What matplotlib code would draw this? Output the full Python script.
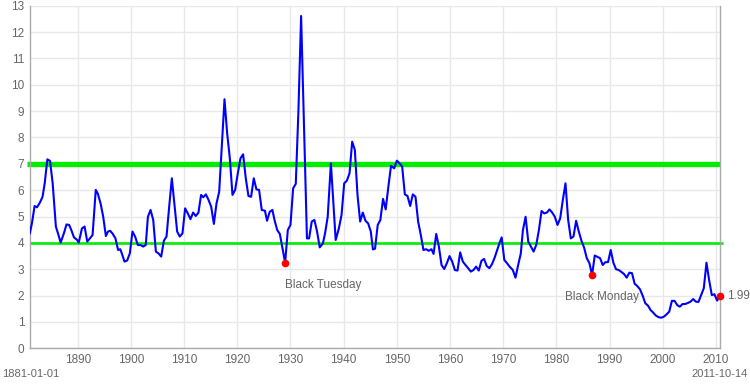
import matplotlib
matplotlib.use("Agg")
import matplotlib.pyplot as plt

years = [1881.0, 1881.4, 1881.9, 1882.35, 1882.9, 1883.4, 1883.8, 1884.3, 1884.8, 1885.3,
         1885.9, 1886.3, 1886.8, 1887.4, 1887.9, 1888.4, 1888.8, 1889.3, 1889.9, 1890.2,
         1890.8, 1891.3, 1891.8, 1892.3, 1892.8, 1893.4, 1893.8, 1894.3, 1894.8, 1895.3,
         1895.7, 1896.1, 1896.6, 1897.1, 1897.6, 1898.0, 1898.3, 1898.8, 1899.3, 1899.8,
         1900.3, 1900.8, 1901.3, 1901.8, 1902.3, 1902.8, 1903.2, 1903.7, 1904.2, 1904.7,
         1905.2, 1905.7, 1906.2, 1906.7, 1907.2, 1907.7, 1908.2, 1908.7, 1909.2, 1909.7,
         1910.2, 1910.7, 1911.2, 1911.7, 1912.2, 1912.7, 1913.2, 1913.6, 1914.1, 1914.6,
         1915.1, 1915.6, 1916.1, 1916.6, 1917.6, 1918.1, 1918.6, 1919.1, 1919.6, 1920.1,
         1920.6, 1921.1, 1921.6, 1922.1, 1922.6, 1923.1, 1923.6, 1924.1, 1924.6, 1925.2,
         1925.6, 1926.1, 1926.6, 1927.0, 1927.5, 1928.0, 1928.5, 1929.0, 1929.5, 1930.0,
         1930.5, 1931.0, 1931.5, 1932.0, 1932.6, 1933.1, 1933.5, 1934.0, 1934.5, 1935.0,
         1935.5, 1936.1, 1936.5, 1937.0, 1937.6, 1938.0, 1938.5, 1939.1, 1939.6, 1940.1,
         1940.6, 1941.1, 1941.6, 1942.1, 1942.6, 1943.1, 1943.6, 1944.1, 1944.6, 1945.1,
         1945.5, 1945.9, 1946.4, 1946.9, 1947.4, 1947.9, 1948.4, 1948.9, 1949.5, 1950.0,
         1950.5, 1951.0, 1951.5, 1952.0, 1952.5, 1953.0, 1953.5, 1954.0, 1954.5, 1955.0,
         1955.5, 1956.0, 1956.5, 1956.9, 1957.4, 1957.9, 1958.4, 1958.9, 1959.4, 1959.9,
         1960.4, 1960.9, 1961.4, 1961.9, 1962.4, 1962.9, 1963.4, 1963.9, 1964.4, 1964.9,
         1965.4, 1965.9, 1966.4, 1966.9, 1967.4, 1967.9, 1968.4, 1968.9, 1969.3, 1969.7,
         1970.2, 1970.7, 1971.2, 1971.8, 1972.3, 1972.8, 1973.3, 1973.7, 1974.2, 1974.7,
         1975.2, 1975.7, 1976.2, 1976.7, 1977.2, 1977.7, 1978.2, 1978.7, 1979.2, 1979.7,
         1980.2, 1980.7, 1981.2, 1981.7, 1982.2, 1982.7, 1983.2, 1983.7, 1984.2, 1984.7,
         1985.2, 1985.7, 1986.2, 1986.7, 1987.2, 1987.7, 1988.2, 1988.7, 1989.2, 1989.7,
         1990.2, 1990.7, 1991.2, 1991.7, 1992.2, 1992.7, 1993.2, 1993.7, 1994.2, 1994.7,
         1995.2, 1995.7, 1996.2, 1996.7, 1997.2, 1997.7, 1998.2, 1998.7, 1999.2, 1999.7,
         2000.2, 2000.7, 2001.2, 2001.7, 2002.2, 2002.7, 2003.2, 2003.7, 2004.2, 2004.7,
         2005.2, 2005.7, 2006.2, 2006.7, 2007.2, 2007.7, 2008.2, 2008.7, 2009.2, 2009.7,
         2010.2, 2010.6, 2010.8]

dividend_yield = [4.36, 4.74, 5.40, 5.35, 5.53, 5.75, 6.26, 7.17, 7.11, 6.26,
                  4.62, 4.36, 4.01, 4.36, 4.70, 4.68, 4.49, 4.21, 4.11, 4.01,
                  4.55, 4.62, 4.05, 4.17, 4.30, 6.01, 5.86, 5.50, 4.99, 4.26,
                  4.43, 4.46, 4.34, 4.17, 3.73, 3.76, 3.60, 3.29, 3.33, 3.60,
                  4.43, 4.24, 3.92, 3.92, 3.86, 3.92, 4.99, 5.25, 4.87, 3.67,
                  3.60, 3.48, 4.08, 4.24, 5.37, 6.45, 5.44, 4.43, 4.24, 4.36,
                  5.31, 5.12, 4.90, 5.15, 5.02, 5.15, 5.82, 5.73, 5.84, 5.63,
                  5.37, 4.72, 5.50, 5.94, 9.45, 8.16, 7.21, 5.82, 6.01, 6.64,
                  7.21, 7.36, 6.45, 5.78, 5.75, 6.45, 6.03, 6.01, 5.25, 5.22,
                  4.84, 5.18, 5.25, 4.87, 4.49, 4.34, 3.80, 3.25, 4.49, 4.68,
                  6.07, 6.24, 9.04, 12.61, 8.03, 4.17, 4.17, 4.81, 4.87, 4.43,
                  3.83, 3.98, 4.36, 4.99, 7.02, 5.75, 4.11, 4.55, 5.06, 6.26,
                  6.36, 6.64, 7.84, 7.53, 5.82, 4.81, 5.15, 4.84, 4.74, 4.43,
                  3.75, 3.78, 4.68, 4.87, 5.67, 5.27, 6.13, 6.92, 6.83, 7.12,
                  7.02, 6.89, 5.84, 5.78, 5.40, 5.84, 5.75, 4.81, 4.30, 3.73,
                  3.76, 3.70, 3.76, 3.58, 4.34, 3.86, 3.16, 3.01, 3.23, 3.50,
                  3.29, 2.97, 2.95, 3.64, 3.29, 3.16, 3.04, 2.91, 2.97, 3.10,
                  2.95, 3.32, 3.39, 3.12, 3.04, 3.20, 3.45, 3.75, 4.00, 4.21,
                  3.35, 3.23, 3.10, 2.97, 2.68, 3.16, 3.60, 4.49, 4.99, 4.05,
                  3.86, 3.67, 3.92, 4.49, 5.21, 5.12, 5.15, 5.27, 5.15, 4.99,
                  4.68, 4.93, 5.63, 6.26, 4.87, 4.17, 4.24, 4.84, 4.43, 4.08,
                  3.82, 3.42, 3.23, 2.78, 3.52, 3.47, 3.42, 3.16, 3.27, 3.27,
                  3.73, 3.25, 3.00, 2.97, 2.90, 2.82, 2.68, 2.87, 2.85, 2.45,
                  2.36, 2.24, 2.00, 1.71, 1.62, 1.45, 1.35, 1.24, 1.18, 1.16,
                  1.20, 1.29, 1.39, 1.80, 1.80, 1.64, 1.58, 1.68, 1.68, 1.72,
                  1.77, 1.87, 1.77, 1.76, 2.02, 2.28, 3.25, 2.59, 2.02, 2.05,
                  1.81, 1.94, 1.99]

x_ticks = [1890, 1900, 1910, 1920, 1930, 1940, 1950, 1960, 1970, 1980, 1990, 2000, 2010]
y_ticks = list(range(0, 14))
bands = [7.0, 4.0]
events = ["Black Tuesday", "Black Monday"]
event_years = [1929.0, 1986.7]
event_values = [3.23, 2.78]
last_label = "1.99"
range_start = "1881-01-01"
range_end = "2011-10-14"

plt.rcParams['font.family'] = ['Liberation Sans', 'DejaVu Sans']

fig = plt.figure(figsize=(7.5, 3.84), dpi=100)
ax = fig.add_axes([29.8 / 750, (384 - 348.3) / 384, (720.3 - 29.8) / 750, (348.3 - 5.7) / 384])

grey = '#666666'
ax.set_xlim(years[0], years[-1])
ax.set_ylim(0, 13)
ax.set_xticks(x_ticks)
ax.set_yticks(y_ticks)
ax.grid(True, color='#e8e8e8', linewidth=1.0)
ax.set_axisbelow(True)
ax.tick_params(length=0, labelsize=8.5, colors=grey, pad=4)
for s in ['left', 'bottom', 'right']:
    ax.spines[s].set_color('#aaaaaa')
    ax.spines[s].set_linewidth(1.0)
ax.spines['top'].set_visible(False)

ax.plot([years[0] - 0.5, years[-1]], [bands[0], bands[0]], color='#00ee00', linewidth=3.8,
        solid_capstyle='butt', clip_on=False, zorder=2)
ax.plot([years[0], years[-1] + 0.5], [bands[1], bands[1]], color='#00ee00', linewidth=1.9,
        solid_capstyle='butt', clip_on=False, zorder=2)

ax.plot(years, dividend_yield, color='#0000ff', linewidth=1.5, zorder=3)

ax.plot(event_years, event_values, 'o', color='#ff0000', markersize=4.5, zorder=4)
ax.plot([years[-1]], [dividend_yield[-1]], 'o', color='#ff0000', markersize=4.5, zorder=4, clip_on=False)

ax.annotate(events[0], (event_years[0], event_values[0]), xytext=(0, -16), textcoords='offset points',
            ha='left', va='center', color=grey, fontsize=8.5)
ax.annotate(events[1], (event_years[1], event_values[1]), xytext=(7, -16), textcoords='offset points',
            ha='center', va='center', color=grey, fontsize=8.5)
ax.annotate(last_label, (years[-1], dividend_yield[-1]), xytext=(5, 0), textcoords='offset points',
            ha='left', va='center', color=grey, fontsize=8.5, annotation_clip=False)

fig.text(2 / 750, 1 - 374 / 384, range_start, ha='left', va='center', color=grey, fontsize=8)
fig.text(748 / 750, 1 - 374 / 384, range_end, ha='right', va='center', color=grey, fontsize=8)

fig.savefig('out.png', dpi=100)
